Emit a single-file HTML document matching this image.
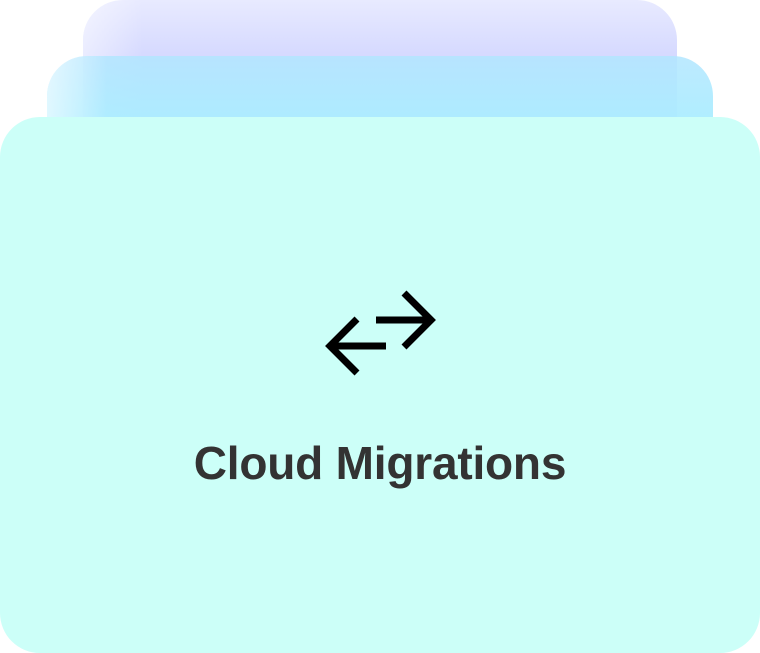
<!DOCTYPE html>
<html><head><style>
html,body{margin:0;padding:0;width:760px;height:653px;background:#fff;overflow:hidden;position:relative}
.r{position:absolute;border-radius:40px}
</style></head><body>
<div class="r" style="left:83px;top:0;width:594px;height:200px;background:linear-gradient(180deg,#e8eaff 0%,#d4d8ff 30%);"></div>
<div class="r" style="left:83px;top:0;width:60px;height:200px;background:linear-gradient(90deg,rgba(255,255,255,0.5),rgba(255,255,255,0));border-radius:40px 0 0 40px"></div>
<div class="r" style="left:47px;top:56px;width:666px;height:200px;background:linear-gradient(180deg,rgba(178,230,255,0.85) 0%,#a8f0ff 50%);"></div>
<div class="r" style="left:47px;top:56px;width:60px;height:200px;background:linear-gradient(90deg,rgba(255,255,255,0.6),rgba(255,255,255,0));border-radius:40px 0 0 40px"></div>
<div class="r" style="left:0;top:117px;width:760px;height:536px;background:#ccfff8;"></div>
<svg style="position:absolute;left:0;top:0" width="760" height="653">
<g fill="none" stroke="#000" stroke-width="7" stroke-linecap="butt" stroke-linejoin="miter">
<path d="M376 320H432M404 293L431 320L404 347"/>
<path d="M386 346H330M357 319L330 346L357 373"/>
</g>
</svg>
<div style="position:absolute;left:0;width:760px;top:436px;text-align:center;font:bold 46px 'Liberation Sans',sans-serif;color:#333;letter-spacing:-0.2px">Cloud Migrations</div>
</body></html>
